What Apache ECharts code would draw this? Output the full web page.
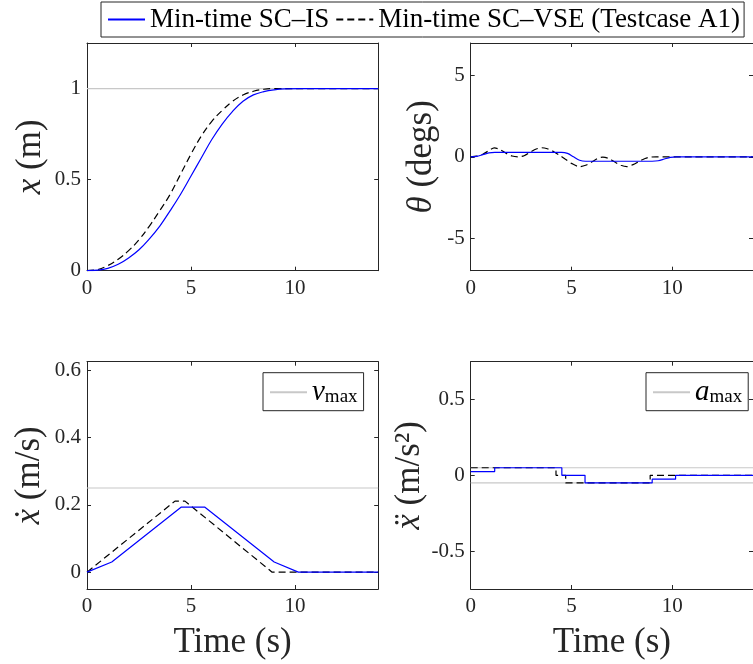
<!DOCTYPE html>
<html>
<head>
<meta charset="utf-8">
<script src="https://cdn.jsdelivr.net/npm/echarts@6/dist/echarts.min.js"></script>
<style>
  html, body { margin: 0; padding: 0; background: #fff; }
  #chart { width: 753px; height: 664px; }
</style>
</head>
<body>
<div id="chart"></div>
<script>
// Tick marks for each axis
const timeTicks = [0, 5, 10];
const posTicks = [0, 0.5, 1];
const angleTicks = [-5, 0, 5];
const velTicks = [0, 0.2, 0.4, 0.6];
const accTicks = [-0.5, 0, 0.5];

// Trolley position x (m) vs time (s)
const posIS = [[0,0],[0.5,0.003],[1,0.013],[1.5,0.035],[2,0.07],[2.5,0.115],[3,0.175],[3.5,0.245],[4,0.33],[4.5,0.42],[5,0.52],[5.5,0.62],[6,0.72],[6.5,0.805],[7,0.875],[7.5,0.93],[8,0.965],[8.5,0.983],[9,0.993],[9.5,0.998],[10.2,1],[12,1],[14,1]];
const posVSE = [[0,0],[0.5,0.006],[1,0.028],[1.5,0.063],[2,0.11],[2.5,0.17],[3,0.245],[3.5,0.33],[4,0.42],[4.5,0.53],[5,0.64],[5.5,0.74],[6,0.82],[6.5,0.88],[7,0.93],[7.5,0.965],[8,0.985],[8.5,0.996],[9,1],[11,1],[14,1]];

// Swing angle theta (degs)
const angleIS = [[0,0],[0.3,0.03],[0.6,0.135],[0.9,0.24],[1.2,0.27],[2.5,0.27],[3.5,0.27],[4.5,0.27],[4.8,0.21],[5.1,0],[5.4,-0.21],[5.7,-0.27],[7,-0.27],[8,-0.27],[9,-0.27],[9.3,-0.24],[9.6,-0.135],[9.9,-0.03],[10.2,0],[12,0],[14,0]];
const angleVSE = [[0,0],[0.3,0.04],[0.6,0.16],[0.9,0.38],[1.17,0.55],[1.45,0.45],[1.75,0.22],[2.05,0.05],[2.35,0],[2.65,0.07],[2.95,0.28],[3.25,0.48],[3.52,0.56],[3.8,0.5],[4.1,0.33],[4.4,0.1],[4.7,-0.15],[5,-0.4],[5.4,-0.6],[5.7,-0.52],[6,-0.32],[6.3,-0.1],[6.55,-0.02],[6.85,-0.1],[7.15,-0.32],[7.45,-0.52],[7.75,-0.6],[8.05,-0.48],[8.35,-0.28],[8.65,-0.1],[8.9,-0.02],[9.2,0],[11,0],[14,0]];

// Velocity (m/s)
const velIS = [[0,0],[1.19,0.03],[4.52,0.193],[5.67,0.193],[9,0.03],[10.16,0],[14,0]];
const velVSE = [[0,0],[4.23,0.211],[4.71,0.211],[8.9,0],[14,0]];

// Acceleration (m/s^2), piecewise constant from each breakpoint
const accIS = [[0,0.025],[1.19,0.05],[4.52,0],[5.67,-0.05],[9,-0.025],[10.16,0],[14,0]];
const accVSE = [[0,0.05],[4.23,0],[4.71,-0.05],[8.9,0],[14,0]];

// Reference levels
const xTarget = 1;
const vMax = 0.25;
const aMax = 0.05;

const nameIS = 'Min-time SC\u2013IS';
const nameVSE = 'Min-time SC\u2013VSE (Testcase A1)';

const FONT = '"Liberation Serif", "DejaVu Serif", serif';
const AX = '#262626';
const GRAY = '#c8c8c8';

const grids = [
  { left: 87, top: 43, width: 291.2, height: 227.7 },
  { left: 470.7, top: 43, width: 290.4, height: 227.7 },
  { left: 87, top: 361.7, width: 291.2, height: 227.3 },
  { left: 470.7, top: 361.7, width: 290.4, height: 227.3 }
];

const yRanges = [[0, 1.25], [-7, 7], [-0.05, 0.625], [-0.75, 0.75]];
const yTicks = [posTicks, angleTicks, velTicks, accTicks];
const yNames = ['{m|x} (m)', '{m|\u03b8} (degs)', '{m|x\u0307} (m/s)', '{m|x\u0308} (m/s\u00b2)'];
const yNameGaps = [39, 31, 40, 34];

const TITLE_SIZE = 35;
const TICK_SIZE = 21;

const nameStyle = {
  fontFamily: FONT, fontSize: TITLE_SIZE, color: AX,
  rich: { m: { fontFamily: FONT, fontSize: TITLE_SIZE, fontStyle: 'italic', color: AX } }
};
const lineSt = { color: AX, width: 1 };

const xAxes = [], yAxes = [];
grids.forEach((g, i) => {
  const bottom = i >= 2;
  xAxes.push({
    type: 'value', gridIndex: i, min: 0, max: 14, position: 'bottom',
    axisLine: { show: true, onZero: false, lineStyle: lineSt },
    axisTick: { show: true, inside: true, length: 4, customValues: timeTicks, lineStyle: lineSt },
    axisLabel: { customValues: timeTicks, fontFamily: FONT, fontSize: TICK_SIZE, color: AX, margin: 7 },
    splitLine: { show: false },
    name: bottom ? 'Time (s)' : '', nameLocation: 'middle', nameGap: 36,
    nameTextStyle: { fontFamily: FONT, fontSize: TITLE_SIZE, color: AX }
  });
  xAxes.push({
    type: 'value', gridIndex: i, min: 0, max: 14, position: 'top',
    axisLine: { show: true, onZero: false, lineStyle: lineSt },
    axisTick: { show: true, inside: true, length: 4, customValues: timeTicks, lineStyle: lineSt },
    axisLabel: { show: false },
    splitLine: { show: false }
  });
  yAxes.push({
    type: 'value', gridIndex: i, min: yRanges[i][0], max: yRanges[i][1], position: 'left',
    axisLine: { show: true, onZero: false, lineStyle: lineSt },
    axisTick: { show: true, inside: true, length: 4, customValues: yTicks[i], lineStyle: lineSt },
    axisLabel: { customValues: yTicks[i], fontFamily: FONT, fontSize: TICK_SIZE, color: AX, margin: 6 },
    splitLine: { show: false },
    name: yNames[i], nameLocation: 'middle', nameGap: yNameGaps[i], nameTextStyle: nameStyle
  });
  yAxes.push({
    type: 'value', gridIndex: i, min: yRanges[i][0], max: yRanges[i][1], position: 'right',
    axisLine: { show: true, onZero: false, lineStyle: lineSt },
    axisTick: { show: true, inside: true, length: 4, customValues: yTicks[i], lineStyle: lineSt },
    axisLabel: { show: false },
    splitLine: { show: false }
  });
});

function mk(name, data, gi, color, dashed, extra) {
  return Object.assign({
    type: 'line', name: name, data: data,
    xAxisIndex: 2 * gi, yAxisIndex: 2 * gi,
    symbol: 'none', silent: true, animation: false,
    lineStyle: { color: color, width: 1.2, type: dashed ? [7, 4] : 'solid' },
    itemStyle: { color: color }
  }, extra || {});
}

const series = [
  // reference levels
  mk('target', [[0, xTarget], [14, xTarget]], 0, GRAY, false, { z: 1 }),
  mk('vmax', [[0, vMax], [14, vMax]], 2, GRAY, false, { z: 1 }),
  mk('amax', [[0, aMax], [14, aMax]], 3, GRAY, false, { z: 1 }),
  mk('amax', [[0, -aMax], [14, -aMax]], 3, GRAY, false, { z: 1 }),
  // position
  mk(nameIS, posIS, 0, '#0000ff', false, { smooth: 0.4, z: 3 }),
  mk(nameVSE, posVSE, 0, '#000000', true, { smooth: 0.4, z: 2 }),
  // angle
  mk(nameIS, angleIS, 1, '#0000ff', false, { smooth: 0.3, z: 3 }),
  mk(nameVSE, angleVSE, 1, '#000000', true, { smooth: 0.3, z: 2 }),
  // velocity
  mk(nameIS, velIS, 2, '#0000ff', false, { z: 3 }),
  mk(nameVSE, velVSE, 2, '#000000', true, { z: 2 }),
  // acceleration
  mk(nameIS, accIS, 3, '#0000ff', false, { step: 'end', z: 3 }),
  mk(nameVSE, accVSE, 3, '#000000', true, { step: 'end', z: 2 })
];

const subRich = {
  i: { fontFamily: FONT, fontSize: 29, fontStyle: 'italic', color: '#000', lineHeight: 31 },
  s: { fontFamily: FONT, fontSize: 19, color: '#000', padding: [10, 0, 0, 0], lineHeight: 31 }
};

// line-only legend samples (no marker dot)
const noMarker = { opacity: 0 };

const legends = [
  {
    data: [nameIS, nameVSE], left: 101, top: 2, orient: 'horizontal',
    itemWidth: 37, itemHeight: 12, itemGap: 6, padding: [4, 4, 4, 6],
    borderColor: AX, borderWidth: 1, backgroundColor: '#fff',
    itemStyle: noMarker,
    textStyle: { fontFamily: FONT, fontSize: 27, color: '#000' },
    selectedMode: false
  },
  {
    data: ['vmax'], left: 263, top: 372.7, itemWidth: 37, itemHeight: 12,
    padding: [5, 6, 4, 6], borderColor: AX, borderWidth: 1, backgroundColor: '#fff',
    itemStyle: noMarker,
    formatter: () => '{i|v}{s|max}', textStyle: { rich: subRich }, selectedMode: false
  },
  {
    data: ['amax'], left: 646, top: 372.7, itemWidth: 37, itemHeight: 12,
    padding: [5, 6, 4, 6], borderColor: AX, borderWidth: 1, backgroundColor: '#fff',
    itemStyle: noMarker,
    formatter: () => '{i|a}{s|max}', textStyle: { rich: subRich }, selectedMode: false
  }
];

const chart = echarts.init(document.getElementById('chart'), null, { renderer: 'canvas' });
chart.setOption({
  animation: false,
  backgroundColor: '#fff',
  grid: grids,
  xAxis: xAxes,
  yAxis: yAxes,
  legend: legends,
  series: series
});
</script>
</body>
</html>
